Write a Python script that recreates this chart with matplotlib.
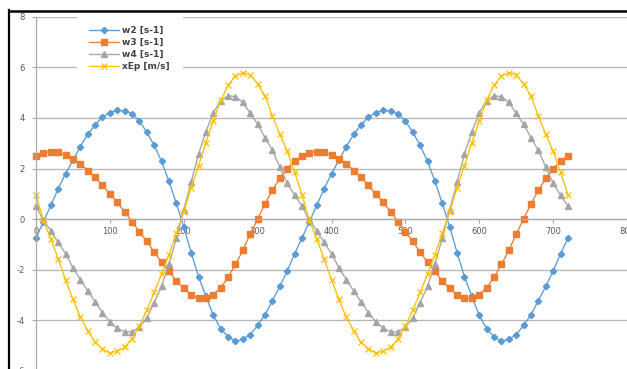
import matplotlib
matplotlib.use("Agg")
import matplotlib.pyplot as plt
from matplotlib.lines import Line2D
from matplotlib.patches import Rectangle

plt.rcParams["axes.unicode_minus"] = False

# crank angle [deg], sampled every 10 degrees over two revolutions
angle = list(range(0, 730, 10))

w2 = [-0.75, -0.10, 0.54, 1.20, 1.80, 2.32, 2.87, 3.35, 3.72, 4.04,
      4.21, 4.30, 4.27, 4.17, 3.88, 3.43, 2.92, 2.28, 1.50, 0.62,
      -0.30, -1.32, -2.27, -3.05, -3.80, -4.33, -4.65, -4.82, -4.75, -4.56,
      -4.20, -3.78, -3.22, -2.66, -2.05, -1.37, -0.75,
      -0.10, 0.54, 1.20, 1.80, 2.32, 2.87, 3.35, 3.72, 4.04,
      4.21, 4.30, 4.27, 4.17, 3.88, 3.43, 2.92, 2.28, 1.50, 0.62,
      -0.30, -1.32, -2.27, -3.05, -3.80, -4.33, -4.65, -4.82, -4.75, -4.56,
      -4.20, -3.78, -3.22, -2.66, -2.05, -1.37, -0.75]

w3 = [2.49, 2.63, 2.67, 2.64, 2.55, 2.36, 2.19, 1.92, 1.65, 1.33,
      1.00, 0.67, 0.29, -0.10, -0.49, -0.88, -1.30, -1.70, -2.06, -2.45,
      -2.73, -3.00, -3.12, -3.12, -2.98, -2.71, -2.30, -1.79, -1.23, -0.59,
      0.00, 0.61, 1.14, 1.61, 1.98, 2.30, 2.49,
      2.63, 2.67, 2.64, 2.55, 2.36, 2.19, 1.92, 1.65, 1.33,
      1.00, 0.67, 0.29, -0.10, -0.49, -0.88, -1.30, -1.70, -2.06, -2.45,
      -2.73, -3.00, -3.12, -3.12, -2.98, -2.71, -2.30, -1.79, -1.23, -0.59,
      0.00, 0.61, 1.14, 1.61, 1.98, 2.30, 2.49]

w4 = [0.52, -0.05, -0.45, -0.92, -1.36, -1.92, -2.39, -2.83, -3.27, -3.69,
      -4.06, -4.31, -4.45, -4.45, -4.27, -3.90, -3.30, -2.65, -1.76, -0.76,
      0.37, 1.47, 2.57, 3.45, 4.21, 4.68, 4.88, 4.84, 4.61, 4.19,
      3.75, 3.22, 2.72, 2.06, 1.42, 0.95, 0.52,
      -0.05, -0.45, -0.92, -1.36, -1.92, -2.39, -2.83, -3.27, -3.69,
      -4.06, -4.31, -4.45, -4.45, -4.27, -3.90, -3.30, -2.65, -1.76, -0.76,
      0.37, 1.47, 2.57, 3.45, 4.21, 4.68, 4.88, 4.84, 4.61, 4.19,
      3.75, 3.22, 2.72, 2.06, 1.42, 0.95, 0.52]

xEp = [0.97, -0.05, -0.78, -1.56, -2.40, -3.16, -3.87, -4.40, -4.87, -5.12,
       -5.29, -5.22, -5.06, -4.73, -4.22, -3.60, -2.89, -2.18, -1.40, -0.55,
       0.30, 1.24, 2.12, 3.02, 3.89, 4.69, 5.29, 5.66, 5.79, 5.71,
       5.35, 4.86, 4.08, 3.35, 2.69, 1.85, 0.97,
       -0.05, -0.78, -1.56, -2.40, -3.16, -3.87, -4.40, -4.87, -5.12,
       -5.29, -5.22, -5.06, -4.73, -4.22, -3.60, -2.89, -2.18, -1.40, -0.55,
       0.30, 1.24, 2.12, 3.02, 3.89, 4.69, 5.29, 5.66, 5.79, 5.71,
       5.35, 4.86, 4.08, 3.35, 2.69, 1.85, 0.97]

labels = ["w2 [s-1]", "w3 [s-1]", "w4 [s-1]", "xEp [m/s]"]
x_ticks = list(range(0, 801, 100))
y_ticks = list(range(-6, 9, 2))

W, H = 627, 369
fig = plt.figure(figsize=(W / 100, H / 100), dpi=100)
fig.patch.set_facecolor("white")


def box(x0, y0, x1, y1):
    """Figure-fraction rectangle from pixel edges measured from the top-left."""
    return [x0 / W, 1 - y1 / H, (x1 - x0) / W, (y1 - y0) / H]


ax = fig.add_axes(box(36, 16.7, 627, 371))
ax.set_xlim(0, 800)
ax.set_ylim(-6, 8)
ax.set_xticks(x_ticks)
ax.set_yticks(y_ticks)

axis_grey = "#a9a9a9"
ax.grid(axis="y", color="#b5b5b5", lw=0.9)
ax.set_axisbelow(True)
for side in ("top", "right"):
    ax.spines[side].set_visible(False)
ax.spines["bottom"].set_position(("data", 0))
for side in ("left", "bottom"):
    ax.spines[side].set_color(axis_grey)
    ax.spines[side].set_linewidth(0.9)
ax.tick_params(colors=axis_grey, labelcolor="#595959", labelsize=6,
               length=3, width=0.8, direction="out")
ax.tick_params(axis="x", pad=3)
ax.tick_params(axis="y", pad=5)

styles = [
    dict(color="#5B9BD5", marker="D", ms=3.2),
    dict(color="#ED7D31", marker="s", ms=4.2),
    dict(color="#A5A5A5", marker="^", ms=4.3),
    dict(color="#FFC000", marker="x", ms=3.8, mew=0.9),
]
handles = []
for ys, lab, st in zip([w2, w3, w4, xEp], labels, styles):
    (ln,) = ax.plot(angle, ys, lw=0.95, label=lab, clip_on=False, **st)
    handles.append(ln)

# white patch behind the legend hides the grid lines there
ax.add_patch(Rectangle((77 / W, 1 - 77 / H), (183 - 77) / W, (77 - 14) / H,
                       transform=fig.transFigure, facecolor="white",
                       edgecolor="none", zorder=2.2, clip_on=False))

leg = ax.legend(handles=handles, loc="upper left",
                bbox_to_anchor=(89 / W, 1 - 26 / H),
                bbox_transform=fig.transFigure, frameon=False,
                fontsize=6.5, handlelength=3.3, handletextpad=0.35,
                labelspacing=0.33, borderpad=0, borderaxespad=0)
for t in leg.get_texts():
    t.set_color("#404040")
    t.set_fontweight("bold")

# outer chart border along the top and left edges
fig.add_artist(Line2D([9 / W, 1], [1 - 11.3 / H, 1 - 11.3 / H],
                      color="black", lw=1.8, transform=fig.transFigure))
fig.add_artist(Line2D([9 / W, 9 / W], [1 - 10.4 / H, 0],
                      color="black", lw=1.6, transform=fig.transFigure))

fig.savefig("out.png", dpi=100, facecolor="white")
